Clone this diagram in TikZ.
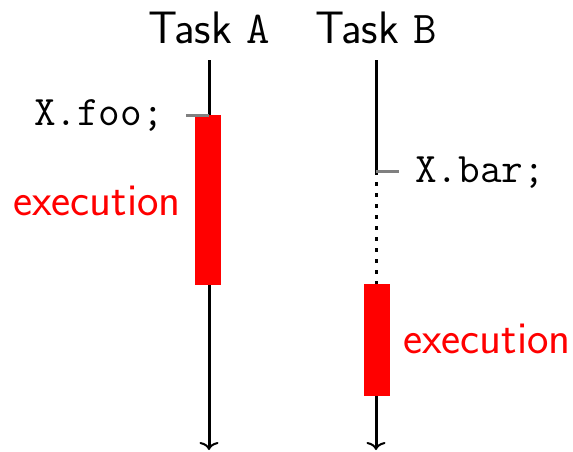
\documentclass[tikz,border=0pt]{standalone}
\usepackage{fontspec}
\usetikzlibrary{arrows.meta}
\begin{document}
\begin{tikzpicture}[x=1pt,y=-1pt,
  lbl/.style={inner sep=0pt,font=\fontsize{45.5}{54}\selectfont\sffamily},
  code/.style={inner sep=0pt,font=\fontsize{42}{50}\selectfont\ttfamily},
  exbox/.style={fill=red,draw=none,inner sep=0pt,minimum width=26pt},
  life/.style={line width=3pt,black},
  tick/.style={line width=3pt,gray},
  tip/.style={-{To[width=19pt,length=8pt,line width=2pt]}}]
\useasboundingbox (0,0) rectangle (573,451);
% labels
\node[lbl,anchor=base] (ta) at (209,43) {Task \texttt{A}};
\node[lbl,anchor=base] (tb) at (376,43) {Task \texttt{B}};
% boxes
\node[exbox,minimum height=170pt,anchor=north] (ea) at (208,115) {};
\node[exbox,minimum height=112pt,anchor=north] (eb) at (376.5,284) {};
% coordinates
\coordinate (a0) at (209,60);
\coordinate (a1) at (209,115);
\coordinate (aend) at (209,450);
\coordinate (b0) at (376,60);
\coordinate (b1) at (376,171);
\coordinate (bend) at (376,450);
\coordinate (ta1) at (186,115);
\coordinate (tb1) at (399,171);
% lifelines
\draw[life] (a0) -- (a1);
\draw[life,tip] (ea.south -| aend) -- (aend);
\draw[life] (b0) -- (b1);
\draw[life,dash pattern=on 4pt off 7pt] (b1) -- (eb.north -| b1);
\draw[life,tip] (eb.south -| bend) -- (bend);
% ticks
\draw[tick] (ta1) -- (a1);
\draw[tick] (b1) -- (tb1);
% texts
\node[code,anchor=base east] (foo) at (164,125) {X.foo;};
\node[code,anchor=base west] (bar) at (415,182) {X.bar;};
\node[lbl,anchor=base east,text=red] (xa) at (181,215) {execution};
\node[lbl,anchor=base west,text=red] (xb) at (403,353) {execution};
\end{tikzpicture}
\end{document}
